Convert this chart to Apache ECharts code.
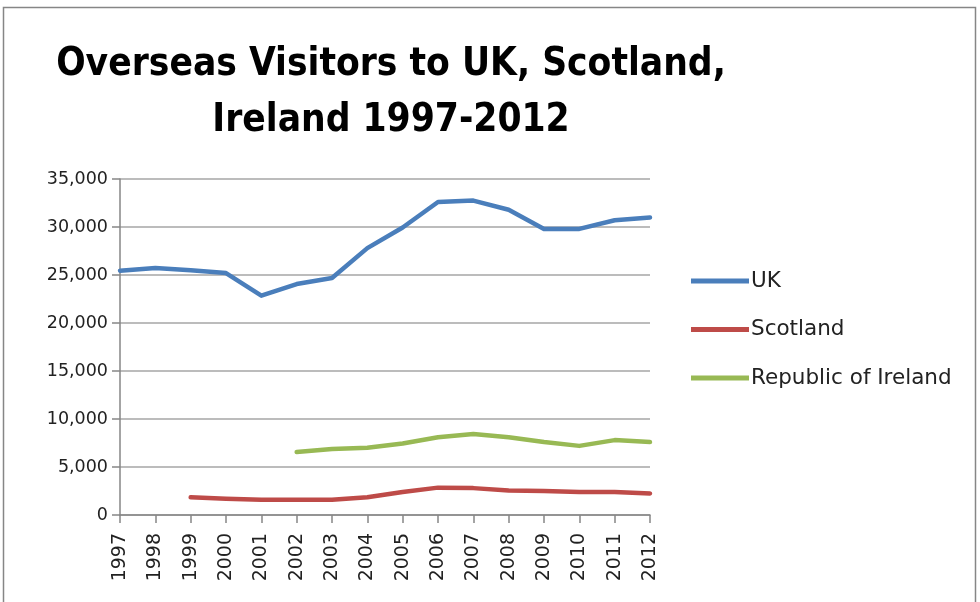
<!DOCTYPE html>
<html><head><meta charset="utf-8">
<script src="https://cdn.jsdelivr.net/npm/echarts@6/dist/echarts.min.js"></script>
<style>html,body{margin:0;padding:0;background:#fff;}#c{width:980px;height:602px;}</style>
</head><body><div id="c"></div>
<script>
var years = ['1997','1998','1999','2000','2001','2002','2003','2004','2005','2006','2007','2008','2009','2010','2011','2012'];
var uk = [25450, 25730, 25500, 25200, 22850, 24060, 24690, 27800, 29950, 32600, 32750, 31800, 29800, 29800, 30700, 31000];
var scotland = [null, null, 1840, 1700, 1600, 1600, 1600, 1850, 2400, 2850, 2800, 2550, 2500, 2400, 2400, 2250];
var ireland = [null, null, null, null, null, 6560, 6870, 7000, 7450, 8100, 8440, 8100, 7600, 7200, 7800, 7600];
var seriesNames = ['UK', 'Scotland', 'Republic of Ireland'];
var colors = ['#4A7EBB', '#BE4B48', '#98B954'];

var chart = echarts.init(document.getElementById('c'), null, {renderer: 'canvas'});
var font = "'Liberation Sans Narrow', 'DejaVu Sans Condensed', sans-serif";
var axisFont = "'DejaVu Sans', sans-serif";
function mk(name, data, i) {
  return {name: name, type: 'line', data: data, connectNulls: false, showSymbol: false, symbol: 'none',
    lineStyle: {width: 4.5, color: colors[i], cap: 'round', join: 'round'}, itemStyle: {color: colors[i]}, animation: false};
}
chart.setOption({
  animation: false,
  graphic: [{type: 'rect', shape: {x: 3.5, y: 7.5, width: 972, height: 600}, style: {fill: 'none', stroke: '#868686', lineWidth: 1.5}}],
  title: {
    text: 'Overseas Visitors to UK, Scotland,\nIreland 1997-2012',
    left: 386, top: 32, textAlign: 'center',
    textStyle: {fontFamily: font, fontWeight: 'bold', fontSize: 38.5, lineHeight: 56, color: '#000'}
  },
  legend: {
    orient: 'vertical', left: 686, top: 265, itemGap: 26.5, itemWidth: 58, itemHeight: 5,
    icon: 'rect',
    textStyle: {fontFamily: axisFont, fontSize: 21.5, color: '#222', padding: [0,0,0,-3]},
    data: seriesNames.map(function(n, i){ return {name: n, icon: 'rect', itemStyle: {color: colors[i]}}; })
  },
  grid: {left: 120, right: 330, top: 179, bottom: 87, containLabel: false},
  xAxis: {
    type: 'category', data: years, boundaryGap: false,
    axisLine: {lineStyle: {color: '#868686', width: 1.5}},
    axisTick: {show: true, length: 8, alignWithLabel: true, lineStyle: {color: '#868686', width: 1.5}},
    axisLabel: {rotate: 90, fontFamily: axisFont, fontSize: 19, color: '#222', margin: 18, interval: 0},
    splitLine: {show: false}
  },
  yAxis: {
    type: 'value', min: 0, max: 35000, interval: 5000,
    axisLine: {show: true, lineStyle: {color: '#868686', width: 1.5}},
    axisTick: {show: true, length: 8, lineStyle: {color: '#868686', width: 1.5}},
    axisLabel: {fontFamily: axisFont, fontSize: 17.5, color: '#222', margin: 12,
      formatter: function(v){ return v.toLocaleString('en-US'); }},
    splitLine: {lineStyle: {color: '#a6a6a6', width: 1.5}}
  },
  series: [mk(seriesNames[0], uk, 0), mk(seriesNames[1], scotland, 1), mk(seriesNames[2], ireland, 2)]
});
</script></body></html>
